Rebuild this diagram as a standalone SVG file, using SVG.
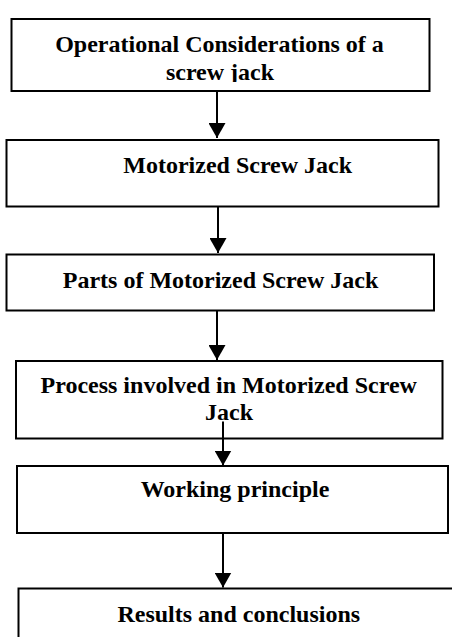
<svg xmlns="http://www.w3.org/2000/svg" width="452" height="637" viewBox="0 0 452 637">
  <style>
    .box { fill: #ffffff; stroke: #000000; stroke-width: 2; }
    .label { font-family: "Liberation Serif", "Times New Roman", serif; font-weight: bold; font-size: 24px; fill: #000000; text-anchor: middle; }
    .flow { stroke: #000000; stroke-width: 2; fill: none; marker-end: url(#head); }
  </style>
  <defs>
    <marker id="head" markerUnits="userSpaceOnUse" markerWidth="16" markerHeight="17" refX="15" refY="8.5" orient="auto">
      <path d="M0,0 L15,8.5 L0,17 Z" fill="#000000"/>
    </marker>
    <!-- text frame of the first step cuts off the descenders of its second line -->
    <clipPath id="clip-step1">
      <rect x="11" y="19" width="420" height="63"/>
    </clipPath>
  </defs>

  <rect width="452" height="637" fill="#ffffff"/>

  <g id="step-operational">
    <rect class="box" x="11.5" y="19" width="418" height="72"/>
    <g clip-path="url(#clip-step1)">
      <text class="label" x="219.5" y="52.3">Operational Considerations of a</text>
      <text class="label" x="220" y="79.5">screw jack</text>
    </g>
  </g>

  <g id="step-motorized">
    <rect class="box" x="6.5" y="140" width="432" height="66.5"/>
    <text class="label" x="237.7" y="173.3">Motorized Screw Jack</text>
  </g>

  <g id="step-parts">
    <rect class="box" x="6.5" y="254.5" width="427.5" height="56"/>
    <text class="label" x="220.5" y="288.3">Parts of Motorized Screw Jack</text>
  </g>

  <g id="step-process">
    <rect class="box" x="16" y="361" width="426.5" height="77.5"/>
    <text class="label" x="228.7" y="393.3">Process involved in Motorized Screw</text>
    <text class="label" x="229" y="420">Jack</text>
  </g>

  <g id="step-working">
    <rect class="box" x="17" y="466" width="431" height="67"/>
    <text class="label" x="235" y="497.3">Working principle</text>
  </g>

  <g id="step-results">
    <rect class="box" x="18.5" y="588.5" width="460" height="80"/>
    <text class="label" x="238.8" y="621.7">Results and conclusions</text>
  </g>

  <g id="connectors">
    <line class="flow" x1="217" y1="91" x2="217" y2="138"/>
    <line class="flow" x1="218" y1="207" x2="218" y2="253"/>
    <line class="flow" x1="217" y1="311" x2="217" y2="360"/>
    <line class="flow" x1="223" y1="421.5" x2="223" y2="465.5"/>
    <line class="flow" x1="223" y1="533" x2="223" y2="587.5"/>
  </g>
</svg>
